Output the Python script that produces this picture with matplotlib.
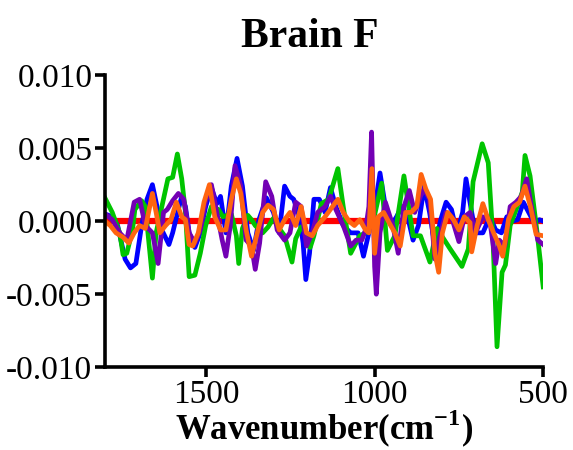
import matplotlib
matplotlib.use("Agg")
import matplotlib.pyplot as plt

plt.rcParams['font.family'] = ['Liberation Serif', 'DejaVu Serif']
plt.rcParams['mathtext.fontset'] = 'custom'
plt.rcParams['mathtext.rm'] = 'Liberation Serif'
plt.rcParams['mathtext.bf'] = 'Liberation Serif:bold'
plt.rcParams['axes.unicode_minus'] = False

# wavenumber (cm-1) and value pairs
green_x = [1800, 1778, 1756, 1746, 1735, 1718, 1711, 1691, 1680, 1659, 1648, 1631, 1613, 1599, 1585,
           1572, 1561, 1550, 1533, 1517, 1501, 1484, 1463, 1450, 1425, 1410, 1403, 1392, 1376, 1365,
           1354, 1332, 1316, 1300, 1283, 1267, 1245, 1234, 1218, 1202, 1191, 1180, 1158, 1136, 1109,
           1093, 1071, 1044, 1027, 1006, 979, 962, 940, 913, 886, 864, 836, 815, 776, 741, 722, 708,
           681, 663, 649, 637, 622, 612, 598, 577, 562, 554, 539, 518, 500]
green_y = [0.0016, 0.0006, -0.0008, -0.0023, -0.0022, -0.0006, 0.0008, 0.0014, 0.0010, -0.0039,
           -0.0008, 0.0010, 0.0029, 0.0030, 0.0046, 0.0029, 0.0006, -0.0038, -0.0037, -0.0022,
           -0.0003, 0.0010, 0.0008, 0.0003, 0.0005, -0.0010, -0.0029, -0.0005, 0.0004, 0.0001,
           -0.0003, -0.0008, -0.0004, 0.0002, -0.0005, -0.0010, -0.0028, -0.0012, -0.0004, -0.0008,
           -0.0018, -0.0010, 0.0012, 0.0015, 0.0036, 0.0010, -0.0022, -0.0010, -0.0008, -0.0002,
           0.0026, -0.0020, -0.0010, 0.0031, -0.0010, -0.0010, -0.0028, -0.0005, -0.0019, -0.0031,
           -0.0019, 0.0027, 0.0053, 0.0040, -0.0012, -0.0086, -0.0035, -0.0030, -0.0003, 0.0010,
           0.0020, 0.0045, 0.0031, -0.0008, -0.0045]

blue_x = [1800, 1778, 1762, 1740, 1724, 1708, 1691, 1675, 1659, 1648, 1631, 1610, 1599, 1582, 1572,
          1561, 1550, 1533, 1517, 1501, 1484, 1468, 1457, 1441, 1425, 1408, 1392, 1376, 1359, 1343,
          1321, 1300, 1283, 1267, 1251, 1240, 1223, 1212, 1204, 1193, 1180, 1164, 1147, 1131, 1115,
          1093, 1071, 1049, 1033, 1017, 1000, 984, 968, 951, 935, 919, 902, 886, 870, 853, 837, 821,
          804, 788, 772, 756, 739, 729, 712, 701, 679, 658, 641, 624, 608, 592, 576, 559, 543, 527,
          511, 500]
blue_y = [0.0005, 0.0003, -0.0003, -0.0026, -0.0032, -0.0029, -0.0003, 0.0015, 0.0025, 0.0013,
          -0.0006, -0.0016, -0.0008, 0.0008, 0.0017, 0.0010, -0.0008, -0.0018, -0.0008, 0.0010,
          0.0023, 0.0012, 0.0017, -0.0008, 0.0024, 0.0043, 0.0024, -0.0008, -0.0020, 0.0001,
          0.0016, 0.0006, -0.0008, 0.0024, 0.0017, 0.0015, 0.0003, -0.0015, -0.0040, -0.0022,
          0.0015, 0.0015, 0.0006, 0.0023, 0.0010, -0.0003, -0.0008, -0.0008, -0.0024, -0.0008,
          0.0008, 0.0033, 0.0010, -0.0003, 0.0003, 0.0010, 0.0003, -0.0013, -0.0003, 0.0024,
          0.0006, -0.0017, 0.0001, 0.0013, 0.0008, -0.0008, 0.0006, 0.0029, 0.0006, -0.0008,
          -0.0008, 0.0003, -0.0006, -0.0008, 0.0003, 0.0000, 0.0001, 0.0013, 0.0006, -0.0001,
          0.0001, 0.0000]

purple_x = [1800, 1778, 1756, 1735, 1713, 1697, 1680, 1659, 1642, 1626, 1615, 1599, 1582, 1566, 1550,
            1533, 1517, 1501, 1484, 1468, 1452, 1441, 1428, 1414, 1397, 1381, 1365, 1354, 1341, 1323,
            1305, 1289, 1267, 1251, 1234, 1218, 1202, 1185, 1169, 1147, 1131, 1115, 1093, 1071, 1055,
            1038, 1027, 1017, 1009, 1000, 995, 984, 968, 946, 930, 913, 897, 881, 864, 853, 837, 821,
            804, 788, 772, 750, 734, 717, 701, 679, 658, 641, 630, 614, 598, 581, 565, 549, 532, 516,
            500]
purple_y = [0.0005, 0.0001, -0.0008, -0.0013, 0.0013, 0.0015, -0.0003, -0.0008, -0.0029, 0.0006,
            0.0008, 0.0014, 0.0019, 0.0015, -0.0008, -0.0015, -0.0006, 0.0014, 0.0025, 0.0006,
            -0.0013, -0.0024, -0.0003, 0.0038, 0.0024, -0.0013, -0.0017, -0.0033, -0.0015, 0.0027,
            0.0017, -0.0006, -0.0013, -0.0008, 0.0013, 0.0010, -0.0017, -0.0008, 0.0006, 0.0010,
            0.0017, 0.0008, -0.0003, -0.0017, -0.0013, -0.0013, -0.0006, 0.0010, 0.0061, -0.0031,
            -0.0050, -0.0008, 0.0013, -0.0003, -0.0022, 0.0010, 0.0021, 0.0006, 0.0017, 0.0022,
            0.0015, -0.0026, -0.0008, 0.0006, 0.0003, -0.0014, 0.0003, 0.0006, -0.0008, 0.0003,
            0.0000, -0.0029, -0.0013, -0.0017, 0.0010, 0.0013, 0.0017, 0.0029, 0.0006, -0.0013,
            -0.0016]

orange_x = [1800, 1784, 1767, 1746, 1729, 1713, 1697, 1680, 1659, 1648, 1637, 1620, 1604, 1588, 1572,
            1561, 1550, 1539, 1523, 1506, 1490, 1474, 1457, 1441, 1425, 1410, 1397, 1381, 1365, 1348,
            1332, 1316, 1300, 1283, 1267, 1251, 1234, 1218, 1202, 1185, 1169, 1147, 1125, 1109, 1093,
            1076, 1060, 1044, 1027, 1017, 1008, 1000, 989, 973, 957, 940, 924, 908, 892, 875, 862,
            848, 834, 821, 810, 799, 783, 766, 750, 734, 717, 712, 696, 679, 663, 647, 630, 620, 603,
            587, 570, 554, 538, 521, 500]
orange_y = [0.0000, -0.0003, -0.0008, -0.0011, -0.0015, -0.0008, -0.0003, -0.0005, 0.0019, 0.0006,
            -0.0008, -0.0003, 0.0001, 0.0013, 0.0003, 0.0001, -0.0016, -0.0017, -0.0008, 0.0013,
            0.0025, 0.0003, -0.0006, -0.0006, 0.0015, 0.0029, 0.0019, -0.0006, -0.0024, -0.0008,
            0.0006, 0.0011, 0.0008, -0.0006, 0.0001, 0.0006, -0.0003, 0.0010, -0.0008, -0.0010,
            -0.0003, 0.0003, 0.0010, 0.0015, 0.0006, 0.0000, -0.0003, 0.0001, -0.0006, -0.0008,
            0.0036, -0.0022, 0.0003, 0.0006, -0.0001, -0.0008, -0.0017, 0.0006, 0.0006, 0.0010,
            0.0032, 0.0022, 0.0015, -0.0022, -0.0035, -0.0008, 0.0006, 0.0001, -0.0006, 0.0003,
            -0.0001, -0.0021, -0.0003, 0.0012, 0.0001, -0.0008, -0.0017, -0.0024, 0.0001, 0.0010,
            0.0013, 0.0024, 0.0010, -0.0009, -0.0010]

red_x = [1800, 500]
red_y = [0.0, 0.0]

fig = plt.figure(figsize=(5.73, 4.5), dpi=100)
ax = fig.add_axes([0.183, 0.184, 0.765, 0.649])

ax.plot(red_x, red_y, color='#ff0000', lw=4.5, solid_capstyle='butt')
ax.plot(blue_x, blue_y, color='#0000ff', lw=3.4, solid_joinstyle='round')
ax.plot(green_x, green_y, color='#00c400', lw=3.4, solid_joinstyle='round')
ax.plot(purple_x, purple_y, color='#7300b4', lw=3.4, solid_joinstyle='round')
ax.plot(orange_x, orange_y, color='#ff6410', lw=3.4, solid_joinstyle='round')

ax.set_xlim(1800, 500)
ax.set_ylim(-0.010, 0.010)
ax.set_xticks([1500, 1000, 500])
ax.set_yticks([-0.010, -0.005, 0.0, 0.005, 0.010])
ax.set_yticklabels([f"{v:.3f}" for v in [-0.010, -0.005, 0.0, 0.005, 0.010]])

for s in ['top', 'right']:
    ax.spines[s].set_visible(False)
for s in ['left', 'bottom']:
    ax.spines[s].set_linewidth(2.6)
ax.tick_params(width=2.6, length=7, labelsize=24, pad=2)

ax.set_xlabel(r'Wavenumber(cm$^{\mathbf{-1}}$)', fontsize=25, fontweight='bold', labelpad=-2)
fig.text(0.54, 0.918, 'Brain F', fontsize=30, fontweight='bold', ha='center', va='center')

fig.savefig('out.png', dpi=100)
